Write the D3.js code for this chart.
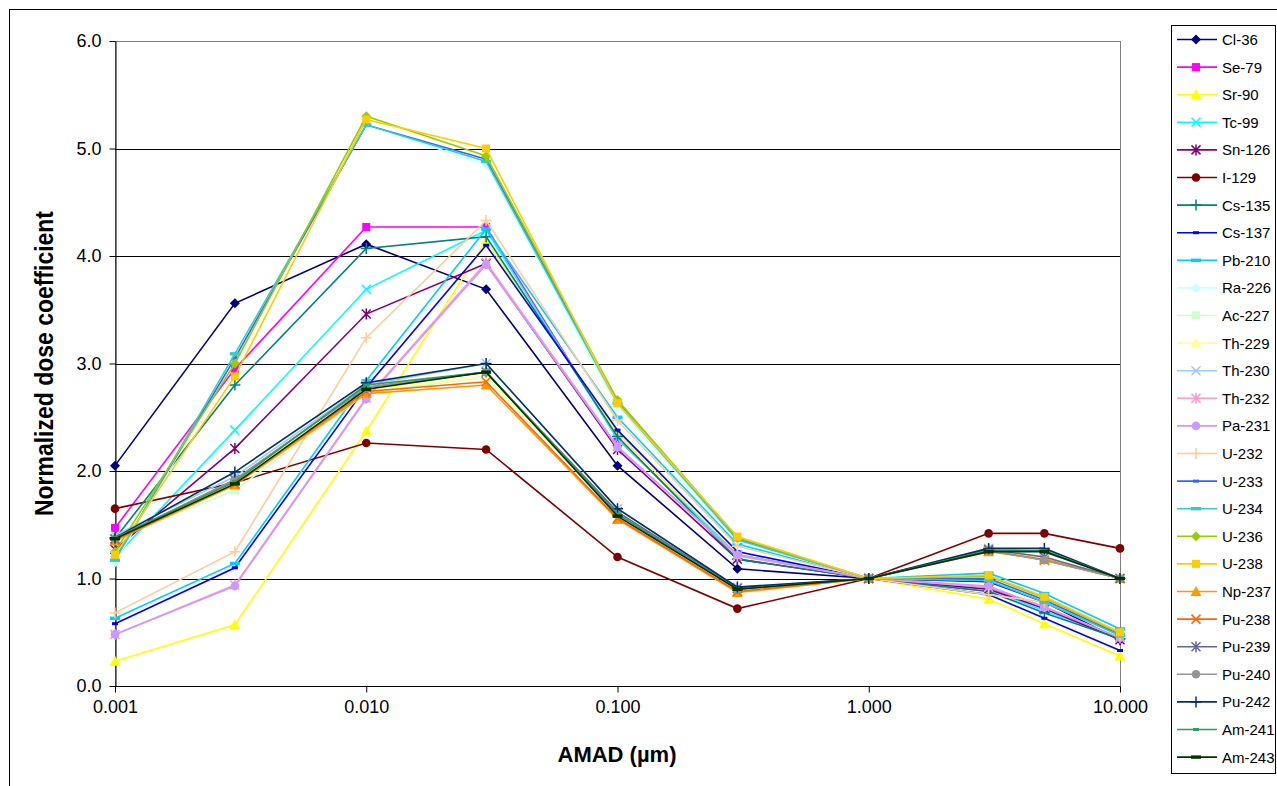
<!DOCTYPE html>
<html>
<head>
<meta charset="utf-8">
<script src="https://cdn.jsdelivr.net/npm/d3@7"></script>
<style>
  html, body { margin: 0; padding: 0; background: #fff; }
  svg { display: block; font-family: "Liberation Sans", Arial, sans-serif; }
</style>
</head>
<body>
<svg id="chart" width="1277" height="786"></svg>
<script>
// ---------- DATA ----------
const amad = [0.001, 0.003, 0.01, 0.03, 0.1, 0.3, 1, 3, 5, 10];
const xTickValues = [0.001, 0.01, 0.1, 1, 10];
const yTickValues = [0, 1, 2, 3, 4, 5, 6];

const nuclides = ["Cl-36","Se-79","Sr-90","Tc-99","Sn-126","I-129","Cs-135","Cs-137","Pb-210",
  "Ra-226","Ac-227","Th-229","Th-230","Th-232","Pa-231","U-232","U-233","U-234",
  "U-236","U-238","Np-237","Pu-238","Pu-239","Pu-240","Pu-242","Am-241","Am-243"];

const colors = ["#000080","#FF00FF","#FFFF00","#00FFFF","#800080","#800000","#008080","#0000FF","#00CCFF",
  "#CCFFFF","#CCFFCC","#FFFF99","#99CCFF","#FF99CC","#CC99FF","#FFCC99","#3366FF","#33CCCC",
  "#99CC00","#FFCC00","#FF9900","#FF6600","#666699","#969696","#003366","#339966","#003300"];

const markers = ["diamond","square","triangle","x","star","circle","plus","shortdash","dash",
  "diamond","square","triangle","x","star","circle","plus","shortdash","dash",
  "diamond","square","triangle","x","star","circle","plus","shortdash","dash"];

const vCl36  = [2.05, 3.56, 4.11, 3.69, 2.05, 1.09, 1.00, 0.97, 0.78, 0.43];
const vSe79  = [1.47, 2.95, 4.27, 4.27, 2.30, 1.22, 1.00, 0.92, 0.72, 0.45];
const vSr90  = [0.23, 0.57, 2.37, 4.14, 2.35, 1.22, 1.00, 0.81, 0.58, 0.28];
const vTc99  = [1.20, 2.38, 3.69, 4.24, 2.30, 1.22, 1.00, 0.90, 0.70, 0.45];
const vSn126 = [1.27, 2.21, 3.46, 3.93, 2.20, 1.18, 1.00, 0.90, 0.72, 0.43];
const vI129  = [1.65, 1.89, 2.26, 2.20, 1.20, 0.72, 1.00, 1.42, 1.42, 1.28];
const vCs135 = [1.37, 2.80, 4.07, 4.18, 2.32, 1.18, 1.00, 0.88, 0.68, 0.44];
const vCs137 = [0.58, 1.10, 2.78, 4.10, 2.38, 1.25, 1.00, 0.85, 0.63, 0.33];
const vPb210 = [0.63, 1.14, 2.84, 4.25, 2.50, 1.32, 1.00, 1.05, 0.86, 0.53];
const vRa226 = [1.15, 3.05, 5.22, 4.85, 2.60, 1.35, 1.00, 1.00, 0.80, 0.48];
const vAc227 = [1.38, 1.82, 2.72, 2.88, 1.60, 0.90, 1.00, 1.25, 1.20, 1.00];
const vTh229 = [1.38, 1.90, 2.75, 2.88, 1.60, 0.90, 1.00, 1.25, 1.20, 1.00];
const vTh230 = [1.40, 1.95, 2.80, 3.00, 1.65, 0.92, 1.00, 1.28, 1.25, 1.00];
const vTh232 = [0.48, 0.94, 2.68, 3.94, 2.23, 1.21, 1.00, 0.92, 0.74, 0.45];
const vPa231 = [0.48, 0.93, 2.67, 3.92, 2.22, 1.22, 1.00, 0.93, 0.73, 0.45];
const vU232  = [0.68, 1.25, 3.24, 4.33, 2.47, 1.30, 1.00, 0.85, 0.78, 0.47];
const vU233  = [1.18, 3.05, 5.22, 4.90, 2.65, 1.37, 1.00, 1.00, 0.80, 0.48];
const vU234  = [1.17, 3.09, 5.22, 4.88, 2.63, 1.36, 1.00, 0.98, 0.78, 0.47];
const vU236  = [1.25, 3.00, 5.30, 4.93, 2.66, 1.38, 1.00, 1.02, 0.82, 0.49];
const vU238  = [1.22, 2.88, 5.27, 5.00, 2.63, 1.39, 1.00, 1.03, 0.83, 0.50];
const vNp237 = [1.35, 1.87, 2.72, 2.80, 1.55, 0.87, 1.00, 1.25, 1.18, 1.00];
const vPu238 = [1.36, 1.88, 2.74, 2.83, 1.56, 0.88, 1.00, 1.26, 1.17, 1.00];
const vPu239 = [1.37, 1.92, 2.78, 2.92, 1.62, 0.91, 1.00, 1.27, 1.20, 1.00];
const vPu240 = [1.37, 1.92, 2.78, 2.92, 1.60, 0.90, 1.00, 1.26, 1.17, 1.00];
const vPu242 = [1.38, 1.99, 2.82, 3.00, 1.65, 0.92, 1.00, 1.28, 1.28, 1.00];
const vAm241 = [1.38, 1.90, 2.80, 2.92, 1.60, 0.90, 1.00, 1.26, 1.26, 1.00];
const vAm243 = [1.37, 1.88, 2.76, 2.92, 1.58, 0.90, 1.00, 1.25, 1.25, 1.00];

const seriesValues = [vCl36, vSe79, vSr90, vTc99, vSn126, vI129, vCs135, vCs137, vPb210,
  vRa226, vAc227, vTh229, vTh230, vTh232, vPa231, vU232, vU233, vU234,
  vU236, vU238, vNp237, vPu238, vPu239, vPu240, vPu242, vAm241, vAm243];

const series = nuclides.map((name, i) => ({
  name, color: colors[i], marker: markers[i],
  points: amad.map((a, j) => ({ x: a, y: seriesValues[i][j] }))
}));

// ---------- LAYOUT ----------
const svg = d3.select("#chart");
const pL = 115, pR = 1120, pT = 41, pB = 686;

const x = d3.scaleLog().domain([0.001, 10]).range([pL, pR]);
const y = d3.scaleLinear().domain([0, 6]).range([pB, pT]);

// outer chart border
svg.append("rect").attr("x", 9.5).attr("y", 9.5).attr("width", 1300).attr("height", 900)
  .attr("fill", "none").attr("stroke", "#000").attr("stroke-width", 1);

// plot area border (grey)
svg.append("rect").attr("x", pL + 0.5).attr("y", pT + 0.5)
  .attr("width", pR - pL).attr("height", pB - pT)
  .attr("fill", "none").attr("stroke", "#808080").attr("stroke-width", 1);

// gridlines
svg.append("g").selectAll("line").data(yTickValues.filter(v => v > 0 && v < 6)).join("line")
  .attr("x1", pL).attr("x2", pR)
  .attr("y1", d => Math.round(y(d)) + 0.5).attr("y2", d => Math.round(y(d)) + 0.5)
  .attr("stroke", "#000").attr("stroke-width", 1);

// axes
const yAxis = d3.axisLeft(y).tickValues(yTickValues).tickFormat(d3.format(".1f"))
  .tickSizeInner(6).tickSizeOuter(0).tickPadding(8);
const gy = svg.append("g").attr("transform", `translate(${pL + 0.5},0)`).call(yAxis);
gy.selectAll("text").attr("font-size", 18).attr("fill", "#000")
  .attr("font-family", "'Liberation Sans', Arial, sans-serif");
gy.selectAll("line, path").attr("stroke", "#000");

const xAxis = d3.axisBottom(x).tickValues(xTickValues).tickFormat(d3.format(".3f"))
  .tickSizeInner(6).tickSizeOuter(0).tickPadding(8);
const gx = svg.append("g").attr("transform", `translate(0,${pB + 0.5})`).call(xAxis);
gx.selectAll("text").attr("font-size", 18).attr("fill", "#000")
  .attr("font-family", "'Liberation Sans', Arial, sans-serif");
gx.selectAll("line, path").attr("stroke", "#000");
gx.select(".domain").attr("d", `M${pL},0H${pR}`);

// axis titles
svg.append("text").attr("x", 617).attr("y", 762).attr("text-anchor", "middle")
  .attr("font-size", 22).attr("font-weight", "bold").text("AMAD (µm)");
svg.append("text").attr("transform", `translate(53,${(pT + pB) / 2}) rotate(-90)`)
  .attr("text-anchor", "middle").attr("font-size", 25).attr("font-weight", "bold")
  .attr("textLength", 305).attr("lengthAdjust", "spacingAndGlyphs")
  .text("Normalized dose coefficient");

// ---------- MARKERS ----------
function drawMarker(g, type, color) {
  const sw = 1.5;
  switch (type) {
    case "diamond":
      g.append("path").attr("d", "M0,-5L5,0L0,5L-5,0Z").attr("fill", color); break;
    case "square":
      g.append("rect").attr("x", -4).attr("y", -4).attr("width", 8).attr("height", 8).attr("fill", color); break;
    case "triangle":
      g.append("path").attr("d", "M0,-5.5L5.5,4.5L-5.5,4.5Z").attr("fill", color); break;
    case "x":
      g.append("path").attr("d", "M-4.5,-4.5L4.5,4.5M-4.5,4.5L4.5,-4.5").attr("stroke", color).attr("stroke-width", sw).attr("fill", "none"); break;
    case "star":
      g.append("path").attr("d", "M-4.5,-4.5L4.5,4.5M-4.5,4.5L4.5,-4.5M0,-5.5L0,5.5").attr("stroke", color).attr("stroke-width", sw).attr("fill", "none"); break;
    case "circle":
      g.append("circle").attr("r", 4.3).attr("fill", color); break;
    case "plus":
      g.append("path").attr("d", "M-5.5,0L5.5,0M0,-5.5L0,5.5").attr("stroke", color).attr("stroke-width", sw).attr("fill", "none"); break;
    case "shortdash":
      g.append("rect").attr("x", -3).attr("y", -1.5).attr("width", 6).attr("height", 3).attr("fill", color); break;
    case "dash":
      g.append("rect").attr("x", -5).attr("y", -1.7).attr("width", 10).attr("height", 3.4).attr("fill", color); break;
  }
}

// ---------- SERIES ----------
const line = d3.line().x(d => x(d.x)).y(d => y(d.y));
const plot = svg.append("g");
series.forEach(s => {
  const g = plot.append("g");
  g.append("path").datum(s.points).attr("d", line)
    .attr("fill", "none").attr("stroke", s.color).attr("stroke-width", 1.6);
  g.selectAll("g.m").data(s.points).join("g").attr("class", "m")
    .attr("transform", d => `translate(${x(d.x)},${y(d.y)})`)
    .each(function () { drawMarker(d3.select(this), s.marker, s.color); });
});

// ---------- LEGEND ----------
const legend = svg.append("g");
legend.append("rect").attr("x", 1171.5).attr("y", 25.5).attr("width", 104).attr("height", 748)
  .attr("fill", "#fff").attr("stroke", "#000").attr("stroke-width", 1);
series.forEach((s, i) => {
  const cy = 39.5 + i * 27.6;
  const g = legend.append("g");
  g.append("line").attr("x1", 1177).attr("x2", 1217).attr("y1", cy).attr("y2", cy)
    .attr("stroke", s.color).attr("stroke-width", 1.6);
  const m = g.append("g").attr("transform", `translate(1196,${cy})`);
  drawMarker(m, s.marker, s.color);
  g.append("text").attr("x", 1222).attr("y", cy + 5.5).attr("font-size", 15).attr("fill", "#000").text(s.name);
});
</script>
</body>
</html>
